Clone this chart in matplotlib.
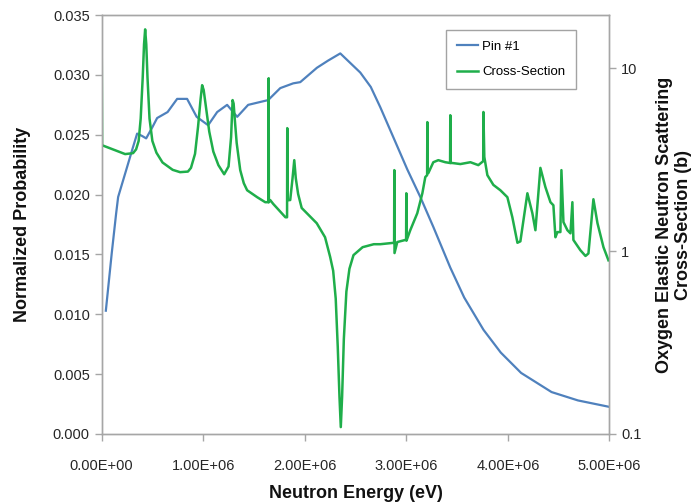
import matplotlib
matplotlib.use("Agg")
import matplotlib.pyplot as plt
from matplotlib.ticker import FixedLocator, FuncFormatter, NullLocator

plt.rcParams['font.family'] = ['Liberation Sans', 'DejaVu Sans']

# Pin #1 normalized probability (energy in MeV)
pin_e = [0.042, 0.100, 0.143, 0.163, 0.251, 0.300, 0.350, 0.399, 0.439, 0.498,
         0.547, 0.650, 0.744, 0.842, 0.936, 1.049, 1.138, 1.236, 1.335, 1.443,
         1.640, 1.759, 1.887, 1.956, 2.120, 2.230, 2.350, 2.547, 2.650, 2.744,
         2.872, 3.010, 3.138, 3.266, 3.433, 3.570, 3.760, 3.930, 4.130, 4.430,
         4.690, 5.000]
pin_p = [0.0103, 0.0151, 0.0184, 0.0198, 0.0223, 0.0237, 0.0251, 0.0249, 0.0247, 0.0256,
         0.0264, 0.0269, 0.0280, 0.0280, 0.0265, 0.0258, 0.0269, 0.0275, 0.0265, 0.0275,
         0.0279, 0.0289, 0.0293, 0.0294, 0.0306, 0.0312, 0.0318, 0.0302, 0.0290, 0.0273,
         0.0248, 0.0221, 0.0198, 0.0173, 0.0139, 0.0114, 0.0087, 0.0068, 0.0051, 0.0035,
         0.0028, 0.00226]

# oxygen elastic cross-section (b), energy in MeV
xs_e = [0.000, 0.005, 0.232, 0.310, 0.340, 0.365, 0.385, 0.405, 0.418, 0.429,
        0.440, 0.452, 0.472, 0.500, 0.540, 0.600, 0.700, 0.773, 0.850, 0.880,
        0.920, 0.950, 0.975, 0.990, 1.005, 1.030, 1.060, 1.100, 1.150, 1.207,
        1.250, 1.275, 1.290, 1.300, 1.312, 1.330, 1.365, 1.400, 1.433, 1.532,
        1.611, 1.643, 1.645, 1.647, 1.660, 1.690, 1.810, 1.826, 1.828, 1.830,
        1.857, 1.880, 1.897, 1.912, 1.935, 1.970, 2.050, 2.118, 2.200, 2.250,
        2.280, 2.305, 2.325, 2.342, 2.355, 2.368, 2.385, 2.410, 2.440, 2.480,
        2.570, 2.680, 2.744, 2.872, 2.880, 2.882, 2.884, 2.911, 2.990, 2.998,
        3.000, 3.002, 3.039, 3.108, 3.158, 3.187, 3.205, 3.207, 3.209, 3.217,
        3.266, 3.315, 3.384, 3.431, 3.433, 3.435, 3.453, 3.532, 3.631, 3.709,
        3.757, 3.759, 3.768, 3.798, 3.857, 3.926, 3.995, 4.044, 4.094, 4.123,
        4.192, 4.241, 4.271, 4.320, 4.369, 4.419, 4.448, 4.468, 4.488, 4.517,
        4.527, 4.547, 4.586, 4.616, 4.635, 4.645, 4.714, 4.764, 4.793, 4.842,
        4.882, 4.941, 4.990]
xs_v = [20.0, 3.79, 3.39, 3.43, 3.60, 4.00, 5.30, 8.90, 13.5, 16.3,
        13.5, 8.90, 5.30, 4.00, 3.45, 3.05, 2.78, 2.70, 2.72, 2.85,
        3.40, 4.80, 6.80, 8.07, 7.60, 6.00, 4.50, 3.50, 2.95, 2.63,
        2.90, 4.20, 6.69, 6.40, 5.20, 3.90, 2.77, 2.35, 2.15, 1.97,
        1.85, 1.85, 8.81, 1.85, 1.90, 1.81, 1.53, 1.53, 4.70, 1.90,
        1.90, 2.50, 3.14, 2.50, 2.05, 1.72, 1.55, 1.42, 1.19, 0.93,
        0.78, 0.55, 0.30, 0.16, 0.109, 0.16, 0.33, 0.60, 0.80, 0.95,
        1.05, 1.09, 1.09, 1.11, 1.11, 2.77, 0.975, 1.12, 1.15, 1.15,
        2.07, 1.14, 1.30, 1.61, 2.07, 2.54, 2.60, 5.07, 2.67, 2.67,
        3.06, 3.14, 3.06, 3.03, 5.53, 3.03, 3.03, 2.99, 3.06, 2.95,
        3.10, 5.76, 3.27, 2.60, 2.30, 2.15, 1.97, 1.53, 1.11, 1.13,
        2.07, 1.61, 1.30, 2.85, 2.24, 1.85, 1.78, 1.19, 1.27, 1.27,
        2.77, 1.44, 1.30, 1.25, 1.85, 1.15, 1.01, 0.94, 0.97, 1.92,
        1.42, 1.05, 0.89]

x_ticks = [0, 1e6, 2e6, 3e6, 4e6, 5e6]
left_ticks = [0.000, 0.005, 0.010, 0.015, 0.020, 0.025, 0.030, 0.035]
right_ticks = [0.1, 1, 10]

spine_col = '#a6a6a6'
text_col = '#262626'

fig = plt.figure(figsize=(6.91, 5.04), dpi=100)
ax = fig.add_axes([0.147, 0.139, 0.735, 0.831])
ax2 = ax.twinx()

l1, = ax.plot([e * 1e6 for e in pin_e], pin_p, color='#4F81BD', lw=1.6, label='Pin #1')
l2, = ax2.plot([e * 1e6 for e in xs_e], xs_v, color='#1FAE4A', lw=1.8, label='Cross-Section')

ax.set_xlim(0, 5e6)
ax.set_ylim(0, 0.035)
ax.set_xticks(x_ticks)
ax.xaxis.set_major_formatter(FuncFormatter(lambda v, p: '%.2E' % v))
ax.set_yticks(left_ticks)
ax.yaxis.set_major_formatter(FuncFormatter(lambda v, p: '%.3f' % v))

ax2.set_yscale('log')
ax2.set_ylim(0.1, 19.5)
ax2.yaxis.set_major_locator(FixedLocator(right_ticks))
ax2.yaxis.set_minor_locator(NullLocator())
ax2.yaxis.set_major_formatter(FuncFormatter(lambda v, p: '%g' % v))

for a in (ax, ax2):
    for s in a.spines.values():
        s.set_color(spine_col)
        s.set_linewidth(1.0)
    a.tick_params(colors=spine_col, labelcolor=text_col, labelsize=10.5, length=5, width=1)
ax.tick_params(axis='x', pad=13)

ax.set_xlabel('Neutron Energy (eV)', fontsize=13, fontweight='bold', color='#111111', labelpad=9)
ax.set_ylabel('Normalized Probability', fontsize=13, fontweight='bold', color='#111111', labelpad=16)
ax2.set_ylabel('Oxygen Elastic Neutron Scattering\nCross-Section (b)', fontsize=13,
               fontweight='bold', color='#111111', labelpad=10)

leg = ax2.legend(handles=[l1, l2], loc='upper left', bbox_to_anchor=(0.679, 0.964),
                 borderaxespad=0, fancybox=False, edgecolor='#8c8c8c', fontsize=9.5,
                 handlelength=1.6, handletextpad=0.3, labelspacing=1.0, borderpad=0.8)
leg.get_frame().set_linewidth(1.0)

fig.savefig('out.png', dpi=100)
